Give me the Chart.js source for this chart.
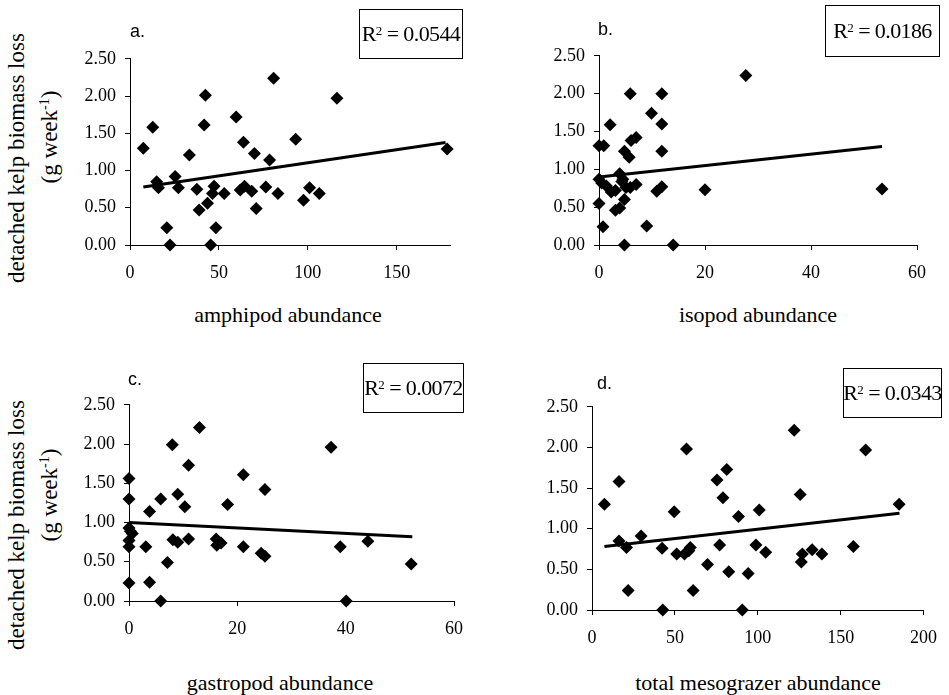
<!DOCTYPE html>
<html>
<head>
<meta charset="utf-8">
<script src="https://cdn.jsdelivr.net/npm/chart.js@4.4.1/dist/chart.umd.min.js"></script>
<style>
  body { margin: 0; background: #fff; width: 949px; height: 695px; overflow: hidden; position: relative; font-family: "Liberation Serif", "Times New Roman", serif; }
  canvas { position: absolute; }
  .txt { position: absolute; white-space: nowrap; color: #000; }
  .ytitle { font-size: 23px; transform: translate(-50%, -50%) rotate(-90deg); }
  .xtitle { font-size: 22px; transform: translate(-50%, -50%); }
  .letter { font-family: "Liberation Sans", Arial, sans-serif; font-size: 18px; }
  .rbox { position: absolute; border: 1px solid #000; box-sizing: border-box; display: flex; align-items: center; justify-content: center; font-size: 22px; letter-spacing: -0.6px; white-space: nowrap; }
  .rbox sup { font-size: 13px; position: relative; top: -3px; }
  sup { font-size: 14px; }
</style>
</head>
<body>

<canvas id="chartA" width="400" height="246" style="left:70px; top:39px"></canvas>
<canvas id="chartB" width="399" height="249" style="left:539px; top:36px"></canvas>
<canvas id="chartC" width="406" height="256" style="left:69px; top:385px"></canvas>
<canvas id="chartD" width="417" height="263" style="left:532px; top:387px"></canvas>

<div class="txt ytitle" style="left:17px; top:158px">detached kelp biomass loss</div>
<div class="txt ytitle" style="left:50px; top:137px">(g week<sup>-1</sup>)</div>
<div class="txt ytitle" style="left:17px; top:525px">detached kelp biomass loss</div>
<div class="txt ytitle" style="left:50px; top:495px">(g week<sup>-1</sup>)</div>

<div class="txt xtitle" style="left:288px; top:315px">amphipod abundance</div>
<div class="txt xtitle" style="left:758px; top:315px">isopod abundance</div>
<div class="txt xtitle" style="left:280px; top:683px">gastropod abundance</div>
<div class="txt xtitle" style="left:758px; top:683px">total mesograzer abundance</div>

<div class="txt letter" style="left:130px; top:21px">a.</div>
<div class="txt letter" style="left:598px; top:19px">b.</div>
<div class="txt letter" style="left:128px; top:369px">c.</div>
<div class="txt letter" style="left:597px; top:373px">d.</div>

<div class="rbox" style="left:359px; top:9px; width:104px; height:50px">R<sup>2</sup>&nbsp;=&nbsp;0.0544</div>
<div class="rbox" style="left:825px; top:5px; width:115px; height:52px">R<sup>2</sup>&nbsp;=&nbsp;0.0186</div>
<div class="rbox" style="left:363px; top:363px; width:101px; height:50px">R<sup>2</sup>&nbsp;=&nbsp;0.0072</div>
<div class="rbox" style="left:843px; top:368px; width:99px; height:50px">R<sup>2</sup>&nbsp;=&nbsp;0.0343</div>

<script>
// valores
const amphipodX = [7.5, 12.8, 15, 16, 20.7, 22.5, 25.4, 27.2, 33.4, 37.6, 38.9, 41.7, 42.4, 43.6, 45.4, 46.4, 47.3, 48.3, 53, 59.7, 62, 63.8, 64.4, 68.5, 70, 71, 76.4, 78.5, 80.8, 83.2, 93.2, 97.6, 101, 106.5, 116.4, 178.4];
const amphipodLoss = [1.30, 1.58, 0.85, 0.77, 0.23, 0, 0.92, 0.77, 1.21, 0.75, 0.47, 1.61, 2.01, 0.56, 0, 0.69, 0.79, 0.23, 0.69, 1.72, 0.74, 1.38, 0.79, 0.72, 1.23, 0.49, 0.78, 1.14, 2.24, 0.69, 1.42, 0.60, 0.77, 0.69, 1.97, 1.29];
const amphipodTrendX = [7.5, 177.5];
const amphipodTrendY = [0.78, 1.375];

const isopodX = [0, 0.9, 0, 0, 0.75, 1.4, 2.1, 2.3, 3.1, 3.1, 3.9, 3.9, 4.8, 4.5, 4.8, 4.8, 5.1, 5.7, 5.9, 6.05, 5.9, 7, 7, 9, 9.9, 10.9, 11.85, 11.85, 11.85, 11.85, 14, 20, 27.7, 53.4, 0.5, 4.3];
const isopodLoss = [1.31, 1.31, 0.87, 0.55, 0.24, 0.78, 1.59, 0.70, 0.72, 0.46, 0.94, 0.49, 1.24, 0.87, 0.60, 0, 0.76, 1.16, 2.00, 1.38, 0.76, 1.42, 0.80, 0.25, 1.74, 0.71, 2.00, 1.60, 1.24, 0.77, 0, 0.73, 2.24, 0.74, 0.82, 0.84];
const isopodTrendX = [0, 53.4];
const isopodTrendY = [0.90, 1.30];

const gastropodX = [0, 0, 0, 0.25, 0.6, 0, 0, 0, 3.1, 3.8, 3.8, 5.85, 5.85, 7.1, 8, 8.1, 9, 9, 10.3, 11, 11, 13, 16.1, 16.2, 17, 18.2, 21.1, 21.1, 24.4, 25.1, 25.1, 37.3, 39, 40.1, 44.1, 52.1];
const gastropodLoss = [1.56, 1.30, 0.93, 0.89, 0.86, 0.77, 0.69, 0.23, 0.69, 1.14, 0.24, 1.30, 0, 0.49, 1.99, 0.78, 1.36, 0.75, 1.20, 1.73, 0.79, 2.21, 0.79, 0.71, 0.74, 1.23, 1.61, 0.69, 0.61, 0.57, 1.42, 1.96, 0.69, 0, 0.76, 0.47];
const gastropodTrendX = [0, 52.3];
const gastropodTrendY = [1.00, 0.82];

const totalX = [7.5, 16.3, 16.3, 20.8, 21.8, 29.6, 42.3, 42.7, 49.6, 51.1, 55.8, 57, 58.4, 59.3, 61, 69.7, 75.4, 77, 79, 81.3, 82.5, 88.4, 90.7, 94.2, 98.9, 100.9, 104.8, 122, 125.6, 126.3, 126.9, 132.8, 138.7, 157.7, 165.1, 185.3];
const totalLoss = [1.30, 1.58, 0.85, 0.77, 0.24, 0.91, 0.76, 0, 1.21, 0.69, 0.69, 1.98, 0.73, 0.77, 0.24, 0.56, 1.60, 0.80, 1.38, 1.73, 0.47, 1.15, 0, 0.45, 0.80, 1.23, 0.71, 2.21, 1.42, 0.59, 0.69, 0.74, 0.69, 0.78, 1.97, 1.30];
const totalTrendX = [7.5, 185.5];
const totalTrendY = [0.78, 1.19];

const lossTicks = [0, 0.5, 1.0, 1.5, 2.0, 2.5];

Chart.defaults.font.family = 'Liberation Serif';
Chart.defaults.font.size = 18;
Chart.defaults.color = '#000';

function toPoints(xs, ys) {
  return xs.map((x, i) => ({ x: x, y: ys[i] }));
}

function makePanel(id, xs, ys, tx, ty, xMax, xStep, padRight) {
  const ctx = document.getElementById(id).getContext('2d');
  new Chart(ctx, {
    type: 'scatter',
    data: {
      datasets: [{
        data: toPoints(xs, ys),
        pointStyle: 'rectRot',
        pointRadius: 6.5,
        pointBackgroundColor: '#000',
        pointBorderColor: '#000',
        pointBorderWidth: 0,
        clip: false
      }, {
        type: 'line',
        data: toPoints(tx, ty),
        borderColor: '#000',
        borderWidth: 3,
        pointRadius: 0,
        fill: false,
        clip: false
      }]
    },
    options: {
      responsive: false,
      animation: false,
      layout: { padding: { top: 12, right: padRight, left: 0, bottom: 0 } },
      plugins: { legend: { display: false }, tooltip: { enabled: false } },
      scales: {
        x: {
          type: 'linear',
          min: 0, max: xMax,
          afterFit: s => { s.height = 40; },
          border: { color: '#000', width: 1 },
          grid: { drawOnChartArea: false, color: '#000', tickLength: 5 },
          ticks: { stepSize: xStep, includeBounds: false, color: '#000', font: { family: 'Liberation Serif', size: 18 }, padding: 12, maxRotation: 0 }
        },
        y: {
          min: 0, max: 2.5,
          afterFit: s => { s.width = 60; },
          afterBuildTicks: s => { s.ticks = lossTicks.map(v => ({ value: v })); },
          border: { color: '#000', width: 1 },
          grid: { drawOnChartArea: false, color: '#000', tickLength: 5 },
          ticks: { color: '#000', font: { family: 'Liberation Serif', size: 18 }, padding: 9, callback: v => v.toFixed(2) }
        }
      }
    }
  });
}

function drawAll() {
  makePanel('chartA', amphipodX, amphipodLoss, amphipodTrendX, amphipodTrendY, 180, 50, 20);
  makePanel('chartB', isopodX, isopodLoss, isopodTrendX, isopodTrendY, 60, 20, 20);
  makePanel('chartC', gastropodX, gastropodLoss, gastropodTrendX, gastropodTrendY, 60, 20, 20);
  makePanel('chartD', totalX, totalLoss, totalTrendX, totalTrendY, 200, 50, 16);
}

// esperar la fuente serif antes de dibujar en el canvas
document.fonts.load('18px "Liberation Serif"').then(drawAll, drawAll);
</script>
</body>
</html>
